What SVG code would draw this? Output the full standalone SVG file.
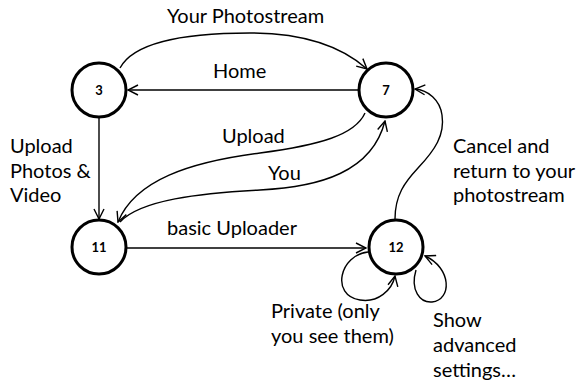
<svg xmlns="http://www.w3.org/2000/svg" width="576" height="383" viewBox="0 0 576 383">
<style>
.node circle{fill:#fff;stroke:#000;stroke-width:3}
.nl{font-family:Lato,"Liberation Sans",sans-serif;font-size:13px;font-weight:bold;text-anchor:middle;fill:#000}
.t{font-family:Lato,"Liberation Sans",sans-serif;font-size:20px;fill:#000}
.c path{fill:none;stroke:#000;stroke-width:1.4}
</style>
<defs>
<marker id="a" viewBox="0 0 12 12" refX="11" refY="6" markerWidth="12" markerHeight="12" markerUnits="userSpaceOnUse" orient="auto">
<path d="M1,1 L11,6 L1,11" fill="none" stroke="#000" stroke-width="1.4"/>
</marker>
</defs>
<rect width="576" height="383" fill="#fff"/>
<g class="c" id="connectors">
<path d="M120,68 C135,40 190,33 250,33 C300,33 340,45 367,69" marker-end="url(#a)"/>
<path d="M358,90 L128,90" marker-end="url(#a)"/>
<path d="M99,118 L99,219" marker-end="url(#a)"/>
<path d="M365,113 C355,135 320,145 260,153 C190,162 135,180 118,222" marker-end="url(#a)"/>
<path d="M120,222 C140,200 200,193 260,190 C320,187 372,172 385,121" marker-end="url(#a)"/>
<path d="M127,248 L366,248" marker-end="url(#a)"/>
<path d="M395,219 C395,195 405,182 418,168 C435,150 445,135 442,115 C440,100 428,90 415,89" marker-end="url(#a)"/>
<path d="M368,252 C340,255 330,295 360,300 C378,303 392,290 395,276" marker-end="url(#a)"/>
<path d="M416,270 C410,290 420,303 432,302 C452,300 452,268 425,256" marker-end="url(#a)"/>
</g>
<g class="node" id="n3"><circle cx="99" cy="90" r="27"/><text class="nl" x="99" y="95">3</text></g>
<g class="node" id="n7"><circle cx="386" cy="90" r="27"/><text class="nl" x="386" y="95">7</text></g>
<g class="node" id="n11"><circle cx="99" cy="247" r="27"/><text class="nl" x="99" y="252">11</text></g>
<g class="node" id="n12"><circle cx="396" cy="247" r="27"/><text class="nl" x="396" y="252">12</text></g>
<g id="labels">
<text class="t" x="167" y="23">Your Photostream</text>
<text class="t" x="213" y="78">Home</text>
<text class="t" x="222" y="143">Upload</text>
<text class="t" x="268" y="180">You</text>
<text class="t" x="167" y="235">basic Uploader</text>
<text class="t" x="10" y="153">Upload</text>
<text class="t" x="10" y="177.5">Photos &amp;</text>
<text class="t" x="10" y="202">Video</text>
<text class="t" x="453" y="153">Cancel and</text>
<text class="t" x="453" y="177.5">return to your</text>
<text class="t" x="453" y="202">photostream</text>
<text class="t" x="271" y="318">Private (only</text>
<text class="t" x="271" y="343">you see them)</text>
<text class="t" x="433" y="327">Show</text>
<text class="t" x="433" y="352">advanced</text>
<text class="t" x="433" y="377">settings…</text>
</g>
</svg>
